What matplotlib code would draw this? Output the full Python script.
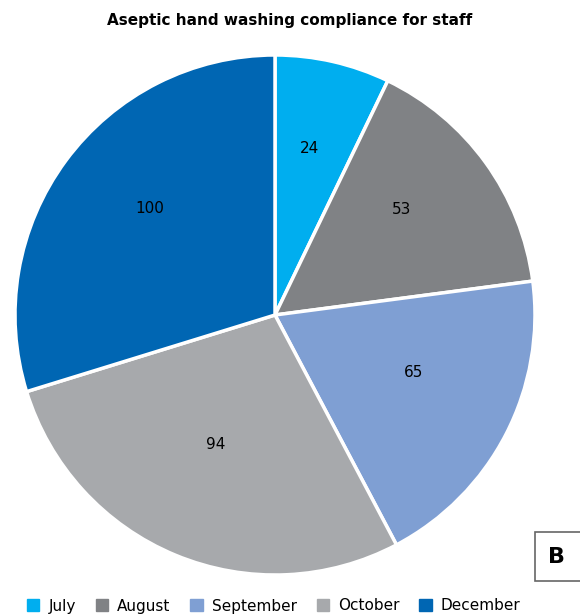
import matplotlib
matplotlib.use("Agg")
import matplotlib.pyplot as plt
from matplotlib.patches import Rectangle

# data
months = ["July", "August", "September", "October", "December"]
counts = [24, 53, 65, 94, 100]
colors = ["#00AEEF", "#808285", "#7F9FD3", "#A7A9AC", "#0066B3"]

plt.rcParams['font.family'] = ['Liberation Sans Narrow', 'DejaVu Sans']

fig = plt.figure(figsize=(5.8, 6.15), dpi=100)

# pie axes, placed in pixel terms
ax = fig.add_axes([15 / 580, 40 / 615, 520 / 580, 520 / 615])
wedges, texts = ax.pie(counts, colors=colors, startangle=90, counterclock=False,
                       labels=[str(c) for c in counts], labeldistance=0.6,
                       wedgeprops=dict(edgecolor='white', linewidth=2.5),
                       textprops=dict(fontsize=11, color='black'))
for t in texts:
    t.set_ha('center')
    t.set_va('center')
    x, y = t.get_position()
    t.set_position((x, y + 0.055))  # labels sit a bit high in the original
ax.set_xlim(-1, 1)
ax.set_ylim(-1, 1)
ax.set_aspect('equal')

fig.text(0.5, 1 - 20 / 615, "Aseptic hand washing compliance for staff",
         ha='center', va='center', fontsize=11, fontweight='bold')

# legend at bottom
handles = [plt.Rectangle((0, 0), 1, 1, color=c) for c in colors]
fig.legend(handles, months, loc='center', bbox_to_anchor=(0.472, 1 - 606 / 615),
           ncol=5, frameon=False, fontsize=11, handlelength=0.8, handleheight=0.8,
           columnspacing=1.3, handletextpad=0.6)

# panel letter box
box = Rectangle((535 / 580, 1 - 581 / 615), 60 / 580, 49 / 615, transform=fig.transFigure,
                facecolor='white', edgecolor='#666666', linewidth=1.2, clip_on=False)
fig.patches.append(box)
fig.text(557 / 580, 1 - 557 / 615, "B", ha='center', va='center', fontsize=16,
         fontweight='bold')

fig.savefig("out.png", dpi=100)
